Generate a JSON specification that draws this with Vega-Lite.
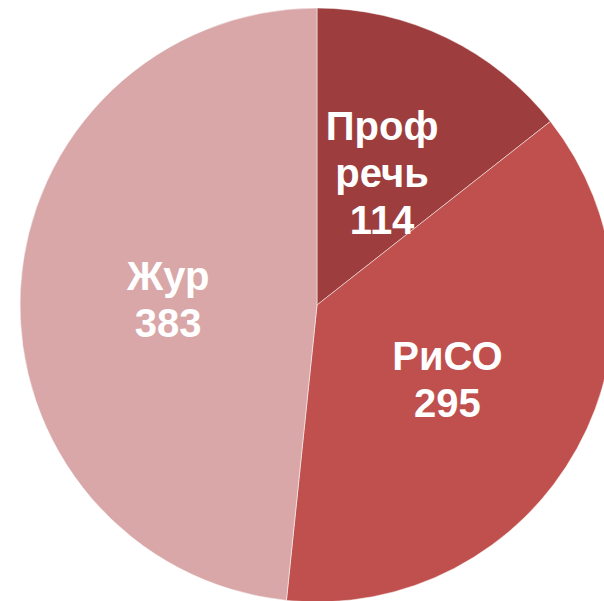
{
  "$schema": "https://vega.github.io/schema/vega-lite/v6.json",
  "autosize": "none",
  "width": 634,
  "height": 610,
  "padding": 0,
  "background": "white",
  "data": {"values": [
    {"name": "Проф\nречь", "value": 114, "order": 1},
    {"name": "РиСО", "value": 295, "order": 2},
    {"name": "Жур", "value": 383, "order": 3}
  ]},
  "transform": [
    {"stack": "value", "groupby": [], "sort": [{"field": "order"}], "as": ["v0", "v1"]},
    {"calculate": "(datum.v0 + datum.v1) / 2", "as": "mid"},
    {"calculate": "datum.name + '\\n' + datum.value", "as": "label"}
  ],
  "layer": [
    {"mark": {"type": "arc", "outerRadius": 297, "stroke": "white", "strokeWidth": 0.5},
     "encoding": {
       "theta": {"field": "v0", "type": "quantitative", "stack": null, "scale": {"domain": [0, 792]}},
       "theta2": {"field": "v1"},
       "color": {"field": "name", "type": "nominal", "legend": null,
         "scale": {"domain": ["Проф\nречь", "РиСО", "Жур"], "range": ["#9D3D3D", "#C0504D", "#D9A7A7"]}}
     }},
    {"transform": [{"filter": "datum.order == 1"}],
     "mark": {"type": "text", "radius": 149, "dy": -43, "fontSize": 40, "fontWeight": "bold", "font": "Liberation Sans", "fill": "white", "lineBreak": "\n", "lineHeight": 47, "baseline": "middle", "align": "center"},
     "encoding": {"theta": {"field": "mid", "type": "quantitative", "stack": null}, "text": {"field": "label"}}},
    {"transform": [{"filter": "datum.order != 1"}],
     "mark": {"type": "text", "radius": 149, "dy": -19, "fontSize": 40, "fontWeight": "bold", "font": "Liberation Sans", "fill": "white", "lineBreak": "\n", "lineHeight": 47, "baseline": "middle", "align": "center"},
     "encoding": {"theta": {"field": "mid", "type": "quantitative", "stack": null}, "text": {"field": "label"}}}
  ]
}
